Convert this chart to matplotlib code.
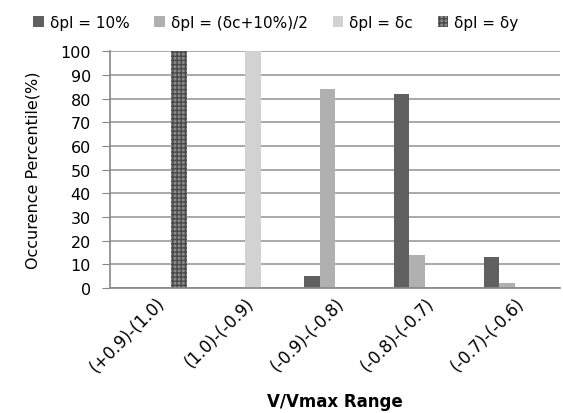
import numpy as np
import matplotlib
matplotlib.use('Agg')
import matplotlib.pyplot as plt

# data
categories = ['(+0.9)-(1.0)', '(1.0)-(-0.9)', '(-0.9)-(-0.8)', '(-0.8)-(-0.7)', '(-0.7)-(-0.6)']
series_names = ['δpl = 10%', 'δpl = (δc+10%)/2', 'δpl = δc', 'δpl = δy']
pl_10 = [0, 0, 5, 82, 13]
pl_half = [0, 0, 84, 14, 2]
pl_c = [0, 100, 0, 0, 0]
pl_y = [100, 0, 0, 0, 0]
yticks = list(range(0, 101, 10))

fig = plt.figure(figsize=(5.63, 4.14), dpi=100)
ax = fig.add_axes([0.196, 0.302, 0.799, 0.572])

colors = ['#606060', '#b0b0b0', '#d2d2d2', '#8a8a8a']
hatches = [None, None, None, '++++']
x = np.arange(len(categories))
w = 0.175
for i, vals in enumerate([pl_10, pl_half, pl_c, pl_y]):
    ax.bar(x + (i - 1.5) * w, vals, w, color=colors[i], label=series_names[i],
           hatch=hatches[i], edgecolor='#4a4a4a' if hatches[i] else colors[i],
           linewidth=0)

ax.set_xlim(-0.5, len(categories) - 0.5)
ax.set_ylim(0, 100)
ax.set_yticks(yticks)
ax.tick_params(axis='y', length=6, color='#888888', labelsize=11.5, pad=8)
ax.tick_params(axis='x', length=0, labelsize=12, pad=4)
ax.set_xticks(x)
ax.set_xticklabels(categories, rotation=45, ha='right', rotation_mode='anchor')
ax.grid(axis='y', color='#999999', linewidth=1.2)
ax.set_axisbelow(True)
for s in ['top', 'right']:
    ax.spines[s].set_visible(False)
for s in ['left', 'bottom']:
    ax.spines[s].set_color('#888888')
    ax.spines[s].set_linewidth(1.2)

ax.set_ylabel('Occurence Percentile(%)', fontsize=11.5, labelpad=14)
ax.set_xlabel('V/Vmax Range', fontsize=12, fontweight='bold', labelpad=12)

fig.legend(loc='upper left', bbox_to_anchor=(0.035, 0.995), ncol=4, frameon=False,
           fontsize=11, handlelength=0.7, handleheight=0.7, handletextpad=0.4,
           columnspacing=1.6)

fig.savefig('out.png', dpi=100)
